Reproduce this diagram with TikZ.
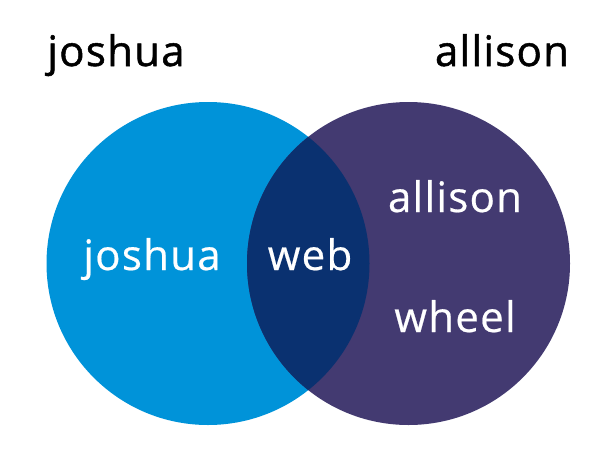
\documentclass[tikz,border=0pt]{standalone}
\usepackage{fontspec}
\setmainfont{Open Sans}
\newfontfamily\namefont{Open Sans}[FakeBold=1.2, LetterSpace=3]
\newfontfamily\memberfont{Open Sans}[FakeBold=0.5, LetterSpace=3]
\usepackage{xcolor}
\usepackage{tikz}

\definecolor{joshuablue}{HTML}{0093D9}
\definecolor{allisonpurple}{HTML}{433A71}
\definecolor{bothnavy}{HTML}{0A3170}

\begin{document}
\begin{tikzpicture}[
  x=1pt, y=-1pt,
  set/.style={circle, minimum size=323pt, inner sep=0pt},
  toplabel/.style={anchor=base, text=black, font=\namefont\fontsize{42}{50}\selectfont},
  inlabel/.style={anchor=base, text=white, font=\memberfont\fontsize{42}{50}\selectfont}
  ]

  \useasboundingbox (0,0) rectangle (601,460);

  % the two sets
  \node[set, fill=joshuablue] (joshuaset) at (208,263.5) {};
  \node[set, fill=allisonpurple] (allisonset) at (408.5,263.5) {};
  \begin{scope}
    \clip (joshuaset.center) circle (161.5);
    \fill[bothnavy] (allisonset.center) circle (161.5);
  \end{scope}

  % set names
  \node[toplabel] (joshuaname) at (116,66) {joshua};
  \node[toplabel] (allisonname) at (502,66) {allison};

  % members
  \node[inlabel] (joshua) at (152,270) {joshua};
  \node[inlabel] (web) at (310,270) {web};
  \node[inlabel] (allison) at (455,212) {allison};
  \node[inlabel] (wheel) at (455,332) {wheel};
\end{tikzpicture}
\end{document}
